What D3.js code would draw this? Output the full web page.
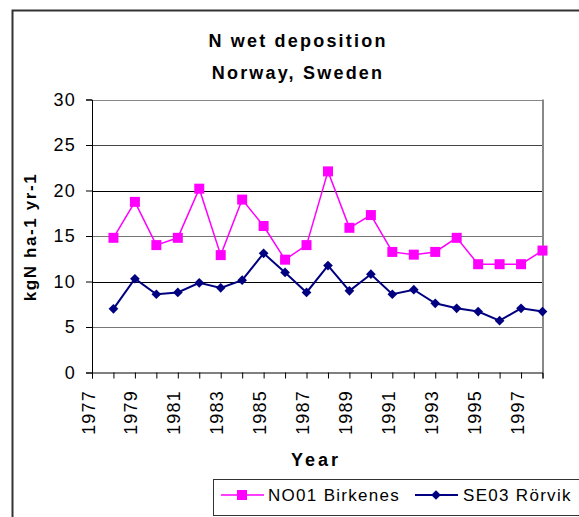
<!DOCTYPE html>
<html>
<head>
<meta charset="utf-8">
<script src="https://cdn.jsdelivr.net/npm/d3@7"></script>
<style>
  html, body { margin: 0; padding: 0; background: #fff; }
  svg { display: block; font-family: "Liberation Sans", Arial, sans-serif; }
</style>
</head>
<body>
<svg id="chart" width="579" height="517"></svg>
<script>
const years = d3.range(1977, 1999);
const yearLabels = [1977, 1979, 1981, 1983, 1985, 1987, 1989, 1991, 1993, 1995, 1997];
const yTicks = [0, 5, 10, 15, 20, 25, 30];

// 1978..1998
const birkenes = [14.8, 18.75, 14.0, 14.8, 20.2, 12.9, 19.0, 16.1, 12.4, 14.0, 22.1,
  15.9, 17.3, 13.25, 12.95, 13.25, 14.8, 11.9, 11.9, 11.9, 13.4];
const rorvik = [7.0, 10.3, 8.6, 8.8, 9.85, 9.3, 10.15, 13.1, 11.0, 8.8, 11.75,
  8.97, 10.8, 8.6, 9.1, 7.6, 7.05, 6.7, 5.7, 7.05, 6.7];

const series = [
  { name: "NO01 Birkenes", values: birkenes, color: "#ff00ff", marker: "square", width: 1.5 },
  { name: "SE03 Rörvik", values: rorvik, color: "#000080", marker: "diamond", width: 2 },
];

const svg = d3.select("#chart");
const plotLeft = 92, plotRight = 542.5, plotTop = 99.5, plotBottom = 372.5;

const x = d3.scaleLinear().domain([1977, 1998]).range([plotLeft, plotRight]);
const y = d3.scaleLinear().domain([0, 30]).range([plotBottom, plotTop]);

// outer chart border
svg.append("path")
  .attr("d", `M12.5,600 V10.5 H700`)
  .attr("fill", "none")
  .attr("stroke", "#333")
  .attr("stroke-width", 2);

// gridlines
const gridColor = { 5: "#777", 10: "#000", 15: "#777", 20: "#000", 25: "#444", 30: "#888" };
svg.append("g")
  .selectAll("line")
  .data(yTicks.filter((d) => d > 0))
  .join("line")
  .attr("x1", plotLeft)
  .attr("x2", plotRight)
  .attr("y1", (d) => Math.round(y(d)) + 0.5)
  .attr("y2", (d) => Math.round(y(d)) + 0.5)
  .attr("stroke", (d) => gridColor[d])
  .attr("stroke-width", 1);

// right border of plot area
svg.append("line")
  .attr("x1", plotRight + 0.5).attr("x2", plotRight + 0.5)
  .attr("y1", plotTop).attr("y2", plotBottom)
  .attr("stroke", "#888").attr("stroke-width", 2);

// y axis
const yAxis = svg.append("g")
  .attr("transform", `translate(${plotLeft},0)`)
  .call(d3.axisLeft(y).tickValues(yTicks).tickSize(6).tickPadding(10));
yAxis.select(".domain").attr("stroke", "#000");
yAxis.selectAll(".tick line").attr("stroke", "#000");
yAxis.selectAll("text")
  .attr("font-size", 18)
  .attr("letter-spacing", 1.3)
  .attr("fill", "#000");

// x axis
const xAxis = svg.append("g")
  .attr("transform", `translate(0,${plotBottom})`)
  .call(d3.axisBottom(x).tickValues(years).tickSize(6).tickFormat(""));
xAxis.select(".domain").attr("stroke", "#000");
xAxis.selectAll(".tick line").attr("stroke", "#000");

svg.append("g")
  .selectAll("text")
  .data(yearLabels)
  .join("text")
  .attr("transform", (d) => `translate(${x(d) + 2.5},390) rotate(-90)`)
  .attr("text-anchor", "end")
  .attr("font-size", 18)
  .attr("letter-spacing", 1.2)
  .text((d) => d);

// lines + markers
const line = d3.line().x((d) => x(d[0])).y((d) => y(d[1]));
const symbolFor = (m) => m === "square"
  ? d3.symbol().type(d3.symbolSquare).size(100)
  : d3.symbol().type(d3.symbolDiamond2).size(60);

series.forEach((s) => {
  const pts = s.values.map((v, i) => [1978 + i, v]);
  svg.append("path")
    .datum(pts)
    .attr("d", line)
    .attr("fill", "none")
    .attr("stroke", s.color)
    .attr("stroke-width", s.width);
  svg.append("g")
    .selectAll("path")
    .data(pts)
    .join("path")
    .attr("transform", (d) => `translate(${x(d[0])},${y(d[1])})`)
    .attr("d", symbolFor(s.marker)())
    .attr("fill", s.color);
});

// titles
const title = svg.append("text")
  .attr("text-anchor", "middle")
  .attr("font-weight", "bold")
  .attr("font-size", 18)
  .attr("letter-spacing", 2.2);
title.append("tspan").attr("x", 298).attr("y", 46.5).text("N wet deposition");
title.append("tspan").attr("x", 298).attr("y", 79).text("Norway, Sweden");

svg.append("text")
  .attr("transform", "translate(36,237) rotate(-90)")
  .attr("text-anchor", "middle")
  .attr("font-weight", "bold")
  .attr("font-size", 17)
  .attr("letter-spacing", 1.6)
  .text("kgN ha-1 yr-1");

svg.append("text")
  .attr("x", 316)
  .attr("y", 466)
  .attr("text-anchor", "middle")
  .attr("font-weight", "bold")
  .attr("font-size", 18)
  .attr("letter-spacing", 3)
  .text("Year");

// legend
const legend = svg.append("g");
legend.append("rect")
  .attr("x", 213.5).attr("y", 479.5)
  .attr("width", 400).attr("height", 36)
  .attr("fill", "#fff")
  .attr("stroke", "#333")
  .attr("stroke-width", 1);

const legendPos = [{ x0: 221, text: 268 }, { x0: 415, text: 463 }];
series.forEach((s, i) => {
  const p = legendPos[i];
  legend.append("line")
    .attr("x1", p.x0).attr("x2", p.x0 + 43)
    .attr("y1", 495).attr("y2", 495)
    .attr("stroke", s.color).attr("stroke-width", s.width);
  legend.append("path")
    .attr("transform", `translate(${p.x0 + 21},495)`)
    .attr("d", symbolFor(s.marker)())
    .attr("fill", s.color);
  legend.append("text")
    .attr("x", p.text).attr("y", 501)
    .attr("font-size", 17)
    .attr("letter-spacing", 1.3)
    .text(s.name);
});
</script>
</body>
</html>
